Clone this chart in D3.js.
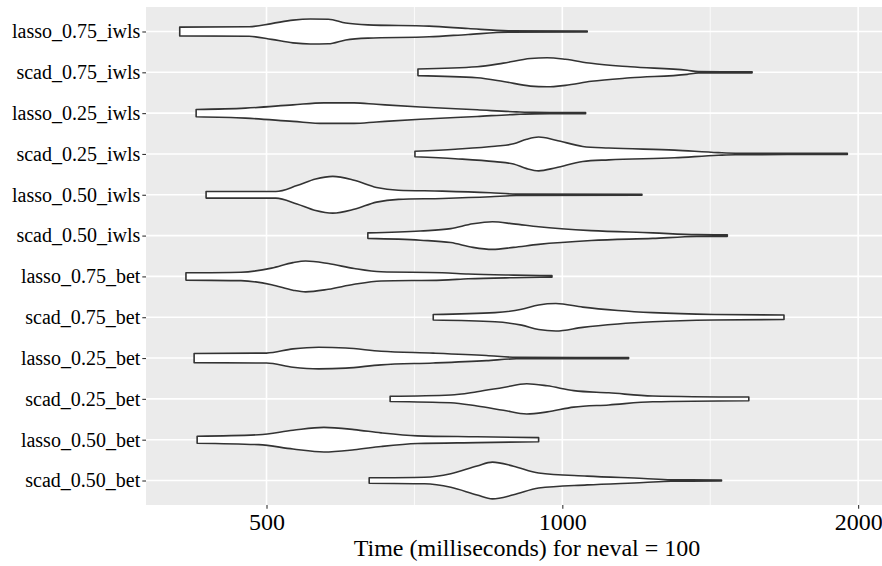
<!DOCTYPE html>
<html>
<head>
<meta charset="utf-8">
<script src="https://cdn.jsdelivr.net/npm/d3@7/dist/d3.min.js"></script>
<style>
    body { margin: 0; background: #fff; }
    #chart { width: 882px; height: 566px; }
    #chart text { font-family: 'Liberation Serif', 'Times New Roman', Times, 'DejaVu Serif', serif; }
</style>
</head>
<body>
<div id="chart"></div>
<script>
//Categorías (de arriba a abajo)
const categorias = ['lasso_0.75_iwls', 'scad_0.75_iwls', 'lasso_0.25_iwls', 'scad_0.25_iwls',
    'lasso_0.50_iwls', 'scad_0.50_iwls', 'lasso_0.75_bet', 'scad_0.75_bet',
    'lasso_0.25_bet', 'scad_0.25_bet', 'lasso_0.50_bet', 'scad_0.50_bet'];

//Contorno de cada violín: [tiempo (ms), densidad relativa]
const lasso_075_iwls = [[408,0.24],[480,0.26],[506,0.43],[532,0.62],[554,0.68],[578,0.67],[602,0.46],[634,0.36],[732,0.29],[802,0.16],[881,0.04],[1060,0.03]];
const scad_075_iwls = [[713,0.18],[819,0.30],[871,0.50],[928,0.75],[965,0.79],[1007,0.71],[1070,0.49],[1173,0.30],[1340,0.11],[1375,0.04],[1560,0.03]];
const lasso_025_iwls = [[424,0.20],[476,0.27],[532,0.45],[572,0.56],[614,0.56],[647,0.48],[717,0.33],[819,0.18],[898,0.07],[937,0.04],[1056,0.03]];
const scad_025_iwls = [[708,0.15],[778,0.26],[854,0.42],[892,0.55],[920,0.80],[946,0.92],[985,0.75],[1049,0.41],[1115,0.32],[1301,0.21],[1441,0.07],[1500,0.04],[1950,0.03]];
const lasso_050_iwls = [[434,0.18],[511,0.18],[537,0.50],[561,0.86],[584,1.00],[614,0.79],[647,0.40],[681,0.25],[755,0.20],[845,0.11],[898,0.04],[1205,0.03]];
const scad_050_iwls = [[634,0.15],[717,0.25],[770,0.38],[811,0.64],[849,0.75],[892,0.64],[946,0.48],[1070,0.27],[1236,0.15],[1370,0.05],[1472,0.04]];
const lasso_075_bet = [[414,0.20],[471,0.23],[506,0.45],[532,0.75],[548,0.84],[578,0.70],[614,0.43],[654,0.25],[755,0.20],[802,0.13],[892,0.07],[976,0.04]];
const scad_075_bet = [[739,0.15],[854,0.25],[909,0.43],[946,0.67],[985,0.75],[1049,0.55],[1139,0.37],[1236,0.25],[1427,0.15],[1681,0.12]];
const lasso_025_bet = [[422,0.25],[500,0.27],[532,0.50],[565,0.59],[602,0.55],[654,0.37],[739,0.27],[837,0.14],[898,0.04],[1168,0.03]];
const scad_025_bet = [[668,0.14],[770,0.21],[819,0.39],[871,0.62],[920,0.82],[965,0.71],[1027,0.45],[1115,0.33],[1236,0.16],[1548,0.10]];
const lasso_050_bet = [[425,0.19],[491,0.27],[532,0.51],[572,0.67],[614,0.55],[654,0.37],[712,0.21],[819,0.16],[946,0.11]];
const scad_050_bet = [[636,0.15],[724,0.18],[770,0.37],[819,0.79],[849,1.00],[892,0.78],[946,0.41],[1060,0.24],[1210,0.11],[1290,0.04],[1452,0.03]];

const violines = {
    'lasso_0.75_iwls': lasso_075_iwls, 'scad_0.75_iwls': scad_075_iwls,
    'lasso_0.25_iwls': lasso_025_iwls, 'scad_0.25_iwls': scad_025_iwls,
    'lasso_0.50_iwls': lasso_050_iwls, 'scad_0.50_iwls': scad_050_iwls,
    'lasso_0.75_bet': lasso_075_bet, 'scad_0.75_bet': scad_075_bet,
    'lasso_0.25_bet': lasso_025_bet, 'scad_0.25_bet': scad_025_bet,
    'lasso_0.50_bet': lasso_050_bet, 'scad_0.50_bet': scad_050_bet
};

//Ejes
const xTicks = [500, 1000, 2000];
const xTitulo = 'Time (milliseconds) for neval = 100';

const COLOR_PANEL = '#EBEBEB',
    COLOR_LINEA = '#333333';

let margin = {top: 7, right: 0, bottom: 61, left: 146},
    width = document.getElementById('chart').clientWidth - margin.left - margin.right,
    height = document.getElementById('chart').clientHeight - margin.top - margin.bottom;

let svg = d3.select('#chart')
    .append('svg')
        .attr('width', width + margin.left + margin.right)
        .attr('height', height + margin.top + margin.bottom)
    .append('g')
        .attr('transform', 'translate(' + margin.left + ',' + margin.top + ')');

//Escalas
let x = d3.scaleLog()
    .domain([377, 2115])
    .range([0, width]);

let y = d3.scalePoint()
    .domain(categorias)
    .range([0, height])
    .padding(0.6);

let w = d3.scaleLinear()
    .domain([0, 1])
    .range([0, y.step() * 0.45]);

//Panel y rejilla
svg.append('rect')
    .attr('width', width)
    .attr('height', height)
    .attr('fill', COLOR_PANEL);

let xMinor = d3.pairs(xTicks).map(function(p) { return Math.sqrt(p[0] * p[1]); });

svg.append('g')
    .selectAll('line')
    .data(xMinor)
    .enter()
    .append('line')
    .attr('x1', function(d) { return x(d); })
    .attr('x2', function(d) { return x(d); })
    .attr('y1', 0)
    .attr('y2', height)
    .attr('stroke', '#fff')
    .attr('stroke-width', 0.8);

svg.append('g')
    .selectAll('line')
    .data(xTicks)
    .enter()
    .append('line')
    .attr('x1', function(d) { return x(d); })
    .attr('x2', function(d) { return x(d); })
    .attr('y1', 0)
    .attr('y2', height)
    .attr('stroke', '#fff')
    .attr('stroke-width', 1.6);

svg.append('g')
    .selectAll('line')
    .data(categorias)
    .enter()
    .append('line')
    .attr('x1', 0)
    .attr('x2', width)
    .attr('y1', function(d) { return y(d); })
    .attr('y2', function(d) { return y(d); })
    .attr('stroke', '#fff')
    .attr('stroke-width', 1.6);

//Violines
let area = d3.area()
    .x(function(d) { return x(d[0]); })
    .y0(function(d) { return -w(d[1]); })
    .y1(function(d) { return w(d[1]); })
    .curve(d3.curveMonotoneX);

svg.append('g')
    .selectAll('path')
    .data(categorias)
    .enter()
    .append('path')
    .attr('transform', function(d) { return 'translate(0,' + y(d) + ')'; })
    .attr('d', function(d) { return area(violines[d]); })
    .attr('fill', '#fff')
    .attr('stroke', COLOR_LINEA)
    .attr('stroke-width', 1.6)
    .attr('stroke-linejoin', 'round');

//Eje Y
let yAxis = function(g) {
    g.call(d3.axisLeft(y).tickSize(3.7).tickPadding(2));
    g.call(function(g) { g.select('.domain').remove(); });
    g.selectAll('.tick line').attr('stroke', COLOR_LINEA).attr('stroke-width', 1.1);
    g.selectAll('.tick text')
        .attr('fill', '#000')
        .style('font-size', '20px');
}

svg.append('g')
    .call(yAxis);

//Eje X
let xAxis = function(g) {
    g.call(d3.axisBottom(x).tickValues(xTicks).tickFormat(d3.format('d')).tickSize(3.7).tickPadding(4));
    g.call(function(g) { g.select('.domain').remove(); });
    g.selectAll('.tick line').attr('stroke', COLOR_LINEA).attr('stroke-width', 1.1);
    g.selectAll('.tick text')
        .attr('fill', '#000')
        .style('font-size', '24px');
}

svg.append('g')
    .attr('transform', 'translate(0,' + height + ')')
    .call(xAxis);

svg.append('text')
    .attr('x', width / 2 + 13)
    .attr('y', height + 51)
    .attr('text-anchor', 'middle')
    .attr('fill', '#000')
    .style('font-size', '24px')
    .text(xTitulo);
</script>
</body>
</html>
